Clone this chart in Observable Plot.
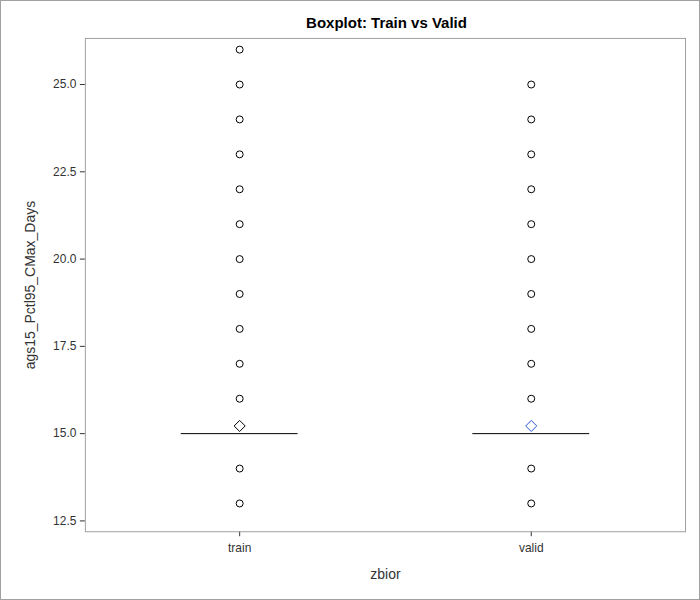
<!DOCTYPE html>
<html><head>
<script src="https://cdn.jsdelivr.net/npm/d3@7"></script>
<script src="https://cdn.jsdelivr.net/npm/@observablehq/plot@0.6"></script>
<style>
body{margin:0;background:#fff;}
#wrap{position:relative;width:698px;height:598px;border:1px solid #a0a0a0;}
#title{position:absolute;top:13px;left:85px;width:601px;text-align:center;font:bold 15px "Liberation Sans",Arial,sans-serif;}
#chart{position:absolute;top:-1px;left:-1px;}
</style>
</head><body>
<div id="wrap"><div id="title">Boxplot: Train vs Valid</div><div id="chart"></div></div>
<script>
const groups = ["train", "valid"];
const trainOutliers = [13, 14, 16, 17, 18, 19, 20, 21, 22, 23, 24, 25, 26];
const validOutliers = [13, 14, 16, 17, 18, 19, 20, 21, 22, 23, 24, 25];
const medians = [15, 15];
const means = [15.22, 15.22];
const meanColors = ["#000000", "#2a5ad8"];
const yTicks = [12.5, 15, 17.5, 20, 22.5, 25];

const outliers = [
  ...trainOutliers.map(v => ({g: "train", v})),
  ...validOutliers.map(v => ({g: "valid", v}))
];
const stats = groups.map((g, i) => ({g, med: medians[i], mean: means[i], c: meanColors[i]}));

let chart = Plot.plot({
  width: 700,
  height: 600,
  marginLeft: 85,
  marginRight: 14,
  marginTop: 38,
  marginBottom: 68,
  style: {fontFamily: "Liberation Sans, Arial, sans-serif", fontSize: 12, color: "#333"},
  x: {domain: groups, paddingInner: 0.6, paddingOuter: 0.327, label: "zbior", labelAnchor: "center", labelOffset: 47, tickSize: 5, tickPadding: 7},
  y: {domain: [12.19, 26.32], ticks: yTicks, tickFormat: d3.format(".1f"), label: "ags15_Pctl95_CMax_Days", labelAnchor: "center", labelOffset: 60, labelArrow: "none", tickSize: 5},
  marks: [
    Plot.frame({stroke: "#a0a0a0"}),
    Plot.tickY(stats, {x: "g", y: "med", stroke: "#000", strokeWidth: 1}),
    Plot.dot(outliers, {x: "g", y: "v", r: 3.5, stroke: "#000", fill: "white", strokeWidth: 1}),
    Plot.dot(stats, {x: "g", y: "mean", symbol: "diamond2", r: 5, stroke: d => d.c, fill: "white", strokeWidth: 1})
  ]
});
chart.querySelectorAll("[aria-label$='axis label'] text, [aria-label$='axis label']").forEach(e => e.setAttribute("font-size", 14));
d3.select("#chart").append(() => chart);
</script>
</body></html>
